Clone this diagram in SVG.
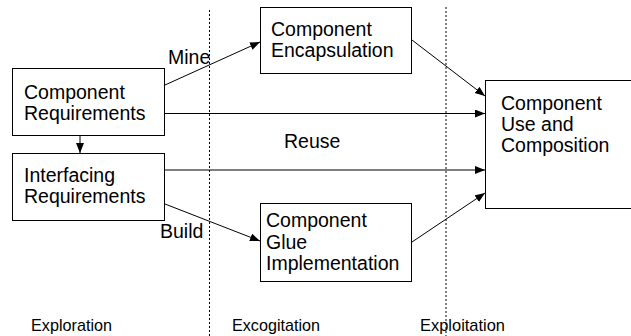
<svg xmlns="http://www.w3.org/2000/svg" width="631" height="336" viewBox="0 0 631 336">
  <style>
    .box { fill: #fff; stroke: #000; stroke-width: 1; }
    .lbl { font-family: "Liberation Sans", Arial, sans-serif; font-size: 19.5px; fill: #000; }
    .phase { font-family: "Liberation Sans", Arial, sans-serif; font-size: 17px; fill: #000; }
    .edge { stroke: #000; stroke-width: 1; fill: none; marker-end: url(#arrow); }
    .divider { stroke: #000; stroke-width: 1; stroke-dasharray: 2 2; }
  </style>
  <defs>
    <marker id="arrow" markerUnits="userSpaceOnUse" markerWidth="11" markerHeight="9" refX="10" refY="4" orient="auto">
      <path d="M0,0 L10,4 L0,8 z" fill="#000"/>
    </marker>
  </defs>
  <rect width="631" height="336" fill="#fff"/>

  <!-- phase dividers -->
  <g id="dividers">
    <line class="divider" x1="209.5" y1="10" x2="209.5" y2="336"/>
    <line class="divider" x1="446" y1="7" x2="446" y2="336"/>
  </g>

  <!-- connectors -->
  <g id="connectors">
    <line class="edge" x1="165" y1="85" x2="260" y2="42"/>
    <line class="edge" x1="165" y1="113.5" x2="485" y2="113.5"/>
    <line class="edge" x1="80" y1="136" x2="80" y2="153"/>
    <line class="edge" x1="165" y1="170" x2="485" y2="170"/>
    <line class="edge" x1="165" y1="204" x2="260" y2="241"/>
    <line class="edge" x1="412" y1="40" x2="485" y2="96"/>
    <line class="edge" x1="412" y1="242" x2="485" y2="193"/>
    <text class="lbl" x="168" y="64">Mine</text>
    <text class="lbl" x="284" y="148">Reuse</text>
    <text class="lbl" x="160" y="238">Build</text>
  </g>

  <g id="component-requirements">
    <rect class="box" x="12.5" y="68.5" width="152" height="67"/>
    <text class="lbl" x="24" y="98.5">Component</text>
    <text class="lbl" x="24" y="119.5">Requirements</text>
  </g>

  <g id="interfacing-requirements">
    <rect class="box" x="12.5" y="153.5" width="152" height="67"/>
    <text class="lbl" x="24" y="182">Interfacing</text>
    <text class="lbl" x="24" y="203">Requirements</text>
  </g>

  <g id="component-encapsulation">
    <rect class="box" x="260.5" y="7.5" width="151" height="66"/>
    <text class="lbl" x="271" y="36">Component</text>
    <text class="lbl" x="271" y="57">Encapsulation</text>
  </g>

  <g id="component-glue">
    <rect class="box" x="260.5" y="203.5" width="151" height="78"/>
    <text class="lbl" x="266" y="227">Component</text>
    <text class="lbl" x="266" y="248.5">Glue</text>
    <text class="lbl" x="266" y="270">Implementation</text>
  </g>

  <g id="component-use">
    <rect class="box" x="485.5" y="80.5" width="146" height="128"/>
    <text class="lbl" x="501" y="110">Component</text>
    <text class="lbl" x="501" y="131">Use and</text>
    <text class="lbl" x="501" y="152">Composition</text>
  </g>

  <g id="phases">
    <text class="phase" x="31" y="331" textLength="81" lengthAdjust="spacingAndGlyphs">Exploration</text>
    <text class="phase" x="232" y="331" textLength="88" lengthAdjust="spacingAndGlyphs">Excogitation</text>
    <text class="phase" x="420" y="331" textLength="85" lengthAdjust="spacingAndGlyphs">Exploitation</text>
  </g>
</svg>
